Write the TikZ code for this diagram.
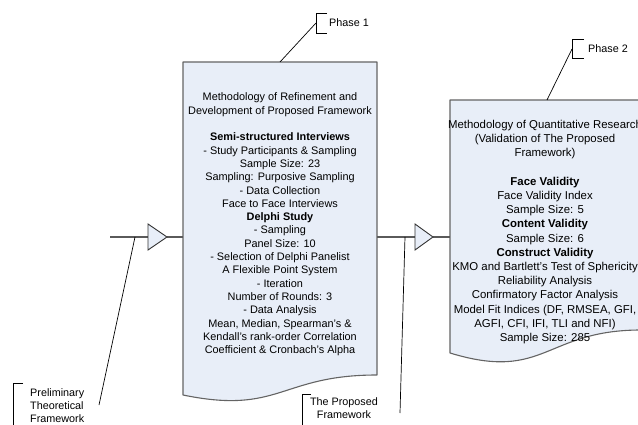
\documentclass[tikz,border=0pt]{standalone}
\usepackage{fontspec}
\setmainfont{Liberation Sans}
\definecolor{boxfill}{RGB}{232,238,248}
\definecolor{boxline}{RGB}{100,100,100}
\definecolor{connline}{RGB}{90,90,90}
\begin{document}
\begin{tikzpicture}[x=1pt,y=-1pt,
  docbox/.style={draw=boxline, line width=1.1pt, fill=boxfill, line join=round},
  tri/.style={draw=black!80, line width=0.9pt, fill=boxfill, line join=miter},
  conn/.style={draw=connline, line width=1.4pt},
  callout/.style={draw=black, line width=0.7pt},
  bracket/.style={draw=black, line width=0.8pt},
  txt/.style={font=\fontsize{10.9}{13.3}\selectfont, align=center, inner sep=0pt},
  txtb/.style={font=\fontsize{11.4}{14.2}\selectfont, align=center, inner sep=0pt},
  lbl/.style={font=\fontsize{10.8}{13.4}\selectfont, inner sep=0pt}]
\useasboundingbox (0,0) rectangle (638,425);

% ---- document box 1 (Phase 1)
\path[docbox] (183,62) -- (377,62) -- (377,375)
  .. controls (280,375) and (280,415) .. (183,395) -- cycle;
\coordinate (b1W) at (183,237);
\coordinate (b1E) at (377,237);
\coordinate (b1T) at (280,62);
\node[txt] (t1) at (280,224.5) {Methodology of Refinement and\\
Development of Proposed Framework\\[13.3pt]
\textbf{Semi-structured Interviews}\\
- Study Participants \& Sampling\\
Sample Size: 23\\
Sampling: Purposive Sampling\\
- Data Collection\\
Face to Face Interviews\\
\textbf{Delphi Study}\\
- Sampling\\
Panel Size: 10\\
- Selection of Delphi Panelist\\
A Flexible Point System\\
- Iteration\\
Number of Rounds: 3\\
- Data Analysis\\
Mean, Median, Spearman's \&\\
Kendall's rank-order Correlation\\
Coefficient \& Cronbach's Alpha};

% ---- document box 2 (Phase 2)
\path[docbox] (450,100) -- (641,100) -- (641,330)
  .. controls (545,330) and (545,382) .. (450,353) -- cycle;
\coordinate (b2W) at (450,237);
\coordinate (b2T) at (547,100);
\node[txtb] (t2) at (545,232) {Methodology of Quantitative Research\\
(Validation of The Proposed\\
Framework)\\[14.2pt]
\textbf{Face Validity}\\
Face Validity Index\\
Sample Size: 5\\
\textbf{Content Validity}\\
Sample Size: 6\\
\textbf{Construct Validity}\\
KMO and Bartlett's Test of Sphericity\\
Reliability Analysis\\
Confirmatory Factor Analysis\\
Model Fit Indices (DF, RMSEA, GFI,\\
AGFI, CFI, IFI, TLI and NFI)\\
Sample Size: 285};

% ---- input connector with triangle
\coordinate (in0) at (110,237);
\coordinate (tri1W) at (148,237);
\coordinate (tri1E) at (167,237);
\draw[conn] (in0) -- (tri1W);
\draw[conn] (tri1E) -- (b1W);
\path[tri] (148,224) -- (tri1E) -- (148,250) -- cycle;

% ---- middle connector with triangle
\coordinate (tri2W) at (415,237);
\coordinate (tri2E) at (433,237);
\draw[conn] (b1E) -- (tri2W);
\draw[conn] (tri2E) -- (b2W);
\path[tri] (415,224) -- (tri2E) -- (415,250) -- cycle;

% ---- callout: Phase 1
\coordinate (p1a) at (316,23);
\draw[bracket] (327,13) -- (316,13) -- (316,33) -- (327,33);
\node[lbl, anchor=west] (p1) at (329,23) {Phase 1};
\draw[callout] (b1T) -- (p1a);

% ---- callout: Phase 2
\coordinate (p2a) at (572,49);
\draw[bracket] (584,39) -- (572,39) -- (572,58) -- (584,58);
\node[lbl, anchor=west] (p2) at (588,49) {Phase 2};
\draw[callout] (b2T) -- (p2a);

% ---- callout: Preliminary Theoretical Framework
\coordinate (pr0) at (135,237);
\coordinate (pr1) at (99,405);
\draw[bracket] (23,383) -- (13,383) -- (13,430);
\node[lbl, anchor=north west, align=left] (prelim) at (30,388) {Preliminary\\Theoretical\\Framework};
\draw[callout] (pr0) -- (pr1);

% ---- callout: The Proposed Framework
\coordinate (pf0) at (405,237);
\coordinate (pf1) at (400,413);
\draw[bracket] (311,394) -- (302,394) -- (302,430);
\node[lbl, anchor=north, align=center] (propfw) at (344,397) {The Proposed\\Framework};
\draw[callout] (pf0) -- (pf1);
\end{tikzpicture}
\end{document}
